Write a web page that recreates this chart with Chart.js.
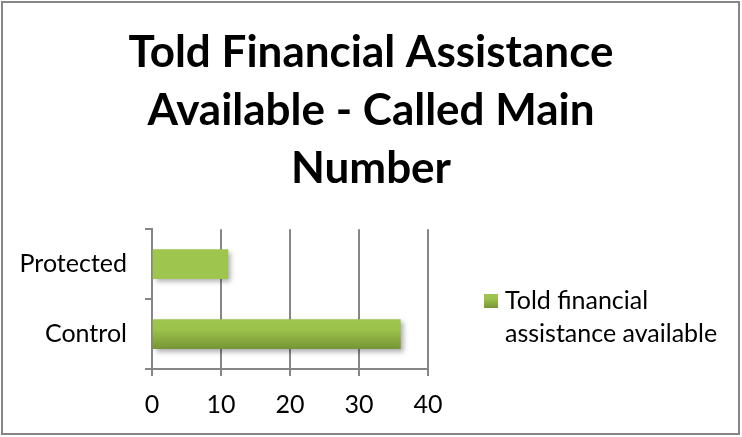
<!DOCTYPE html>
<html>
<head>
<meta charset="utf-8">
<script src="https://cdn.jsdelivr.net/npm/chart.js@4"></script>
<style>
  html, body { margin: 0; padding: 0; background: #fff; }
  #wrap { width: 742px; height: 437px; }
</style>
</head>
<body>
<div id="wrap"><canvas id="chart" width="742" height="437"></canvas></div>
<script>
const titleLines = ["Told Financial Assistance", "Available - Called Main", "Number"];
const groups = ["Protected", "Control"];
const seriesName = "Told financial assistance available";
const legendLines = ["Told financial", "assistance available"];
const toldValues = [11, 36];
const xTicks = [0, 10, 20, 30, 40];

const lineGray = "#868686";
const fontFamily = "Lato, 'Open Sans', sans-serif";

function barGradient(ctx, top, bottom) {
  const g = ctx.createLinearGradient(0, top, 0, bottom);
  g.addColorStop(0, "#9ec64e");
  g.addColorStop(0.35, "#9bc24b");
  g.addColorStop(1, "#779536");
  return g;
}

// shades each bar top-to-bottom and gives it a soft drop shadow
const barStyle = {
  id: "barStyle",
  beforeDatasetsDraw(chart) {
    const ctx = chart.ctx;
    chart.getDatasetMeta(0).data.forEach((bar) => {
      const half = bar.height / 2;
      bar.options.backgroundColor = barGradient(ctx, bar.y - half, bar.y + half);
    });
    ctx.save();
    ctx.shadowColor = "rgba(0, 0, 0, 0.32)";
    ctx.shadowBlur = 5;
    ctx.shadowOffsetX = 3;
    ctx.shadowOffsetY = 3;
  },
  afterDatasetsDraw(chart) {
    chart.ctx.restore();
  },
};

// right-hand legend box with wrapped text; the title keeps the full width
const sideLegend = {
  id: "sideLegend",
  beforeInit(chart) {
    const box = {
      position: "right",
      weight: 1000,
      fullSize: false,
      options: {},
      isHorizontal() {
        return false;
      },
      update(maxWidth, maxHeight) {
        this.width = 314;
        this.height = maxHeight;
      },
      draw() {
        const ctx = chart.ctx;
        const x = this.left + 56;
        ctx.save();
        ctx.fillStyle = barGradient(ctx, 294, 308);
        ctx.fillRect(x, 294, 14, 14);
        ctx.fillStyle = "#000";
        ctx.font = `25px ${fontFamily}`;
        ctx.textBaseline = "alphabetic";
        legendLines.forEach((line, i) => {
          ctx.fillText(line, x + 21, 309 + i * 33);
        });
        ctx.restore();
      },
    };
    Chart.layouts.addBox(chart, box);
  },
  afterDraw(chart) {
    const ctx = chart.ctx;
    ctx.save();
    ctx.strokeStyle = lineGray;
    ctx.lineWidth = 2;
    ctx.strokeRect(2, 2, 737, 432);
    ctx.restore();
  },
};

new Chart(document.getElementById("chart"), {
  type: "bar",
  data: {
    labels: groups,
    datasets: [
      {
        label: seriesName,
        data: toldValues,
        backgroundColor: "#9bc24b",
        borderWidth: 0,
        barThickness: 29,
      },
    ],
  },
  options: {
    indexAxis: "y",
    animation: false,
    responsive: false,
    layout: {
      padding: { top: 24, right: 0, bottom: 0, left: 0 },
    },
    scales: {
      x: {
        min: 0,
        max: 40,
        afterBuildTicks: (scale) => {
          scale.ticks = xTicks.map((v) => ({ value: v }));
        },
        afterFit: (scale) => {
          scale.height = 68;
        },
        ticks: {
          color: "#000",
          padding: 14,
          font: { family: fontFamily, size: 25 },
        },
        grid: { color: lineGray, lineWidth: 2, tickLength: 7 },
        border: { color: lineGray, width: 2 },
      },
      y: {
        afterFit: (scale) => {
          scale.width = 152;
        },
        ticks: {
          color: "#000",
          padding: 18,
          font: { family: fontFamily, size: 25 },
        },
        grid: {
          color: lineGray,
          lineWidth: 2,
          tickLength: 7,
          drawOnChartArea: false,
        },
        border: { color: lineGray, width: 2 },
      },
    },
    plugins: {
      legend: { display: false },
      tooltip: { enabled: false },
      title: {
        display: true,
        text: titleLines,
        color: "#000",
        font: { family: fontFamily, size: 44, weight: "bold", lineHeight: 1.32 },
        padding: { top: 0, bottom: 31 },
      },
    },
  },
  plugins: [barStyle, sideLegend],
});
</script>
</body>
</html>
